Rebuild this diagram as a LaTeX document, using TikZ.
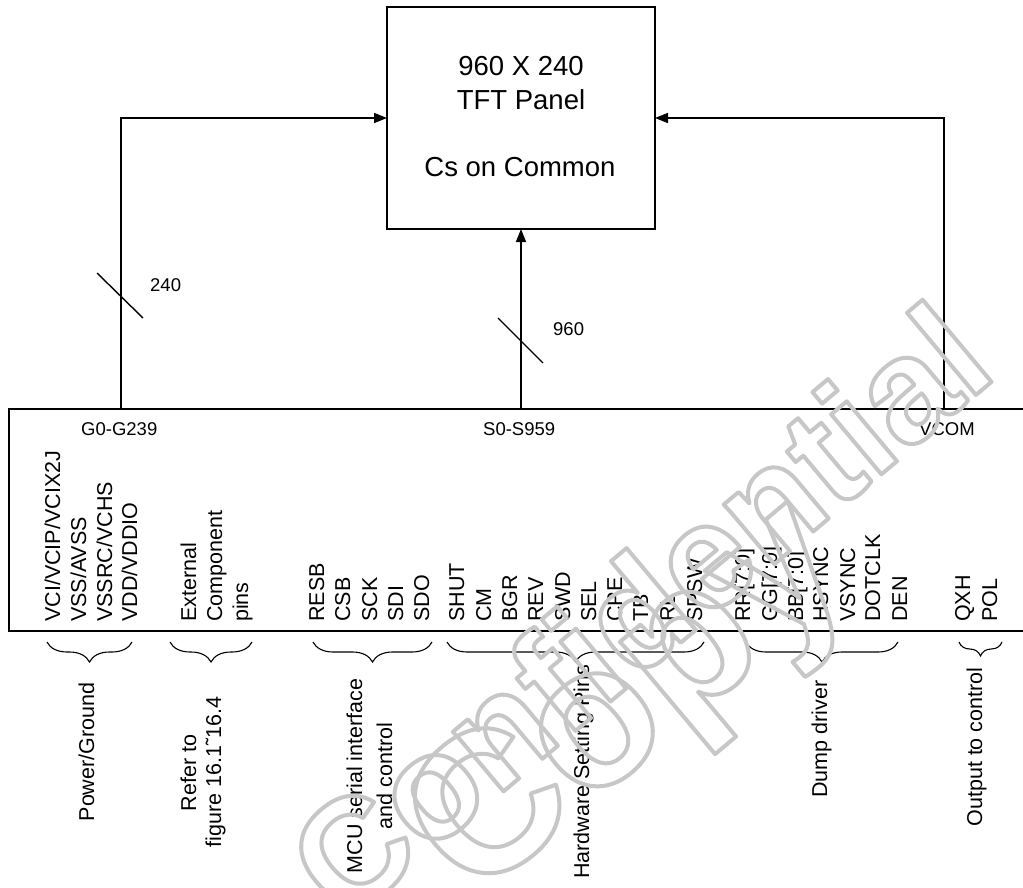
\documentclass[tikz,border=0pt]{standalone}
\usepackage{fontspec}
\setmainfont{Liberation Sans}
\usetikzlibrary{arrows.meta,decorations.pathreplacing}
\colorlet{wmgray}{black!22}
\begin{document}
\begin{tikzpicture}[x=1pt,y=-1pt,
  arr/.style={line width=1.6pt,-{Triangle[length=13pt,width=10pt]}},
  box/.style={draw,line width=1.6pt,inner sep=0pt,outer sep=0pt},
  pin/.style={rotate=90,anchor=base west,inner sep=0pt,font=\fontsize{21.5}{26}\selectfont},
  grp/.style={rotate=90,anchor=base,inner sep=0pt,font=\fontsize{21.5}{26}\selectfont},
  bus/.style={anchor=base west,inner sep=0pt,font=\fontsize{18.5}{22}\selectfont},
  ptext/.style={anchor=base,inner sep=0pt,font=\fontsize{27.5}{33}\selectfont},
  brc/.style={decorate,decoration={brace,amplitude=20pt,mirror},line width=1.1pt},
  slash/.style={line width=1.4pt},
  wm/.style={rotate=40,anchor=base,inner sep=0pt,text=wmgray}
]
\useasboundingbox (0,0) rectangle (1023,888);

% panel
\node[box,minimum width=268pt,minimum height=222pt] (panel) at (521,118) {};
\node[ptext] (t1) at (521,76) {960 X 240};
\node[ptext] (t2) at (521,110) {TFT Panel};
\node[ptext] (t3) at (520,177) {Cs on Common};

% driver chip
\node[box,minimum width=1040pt,minimum height=222pt,anchor=north west] (chip) at (9,409) {};
\coordinate (gtap) at (121,409);
\coordinate (stap) at (521,409);
\coordinate (vtap) at (944,409);
\draw[arr] (gtap) |- (panel.west);
\draw[arr] (vtap) |- (panel.east);
\draw[arr] (stap) -- (panel.south);

% bus slashes
\draw[slash] (97,273) -- (143,318);
\draw[slash] (498,318) -- (543,363);
\node[bus] (l240) at (150,291) {240};
\node[bus] (l960) at (553,335) {960};

\node[bus] (lg) at (81,435) {G0-G239};
\node[bus] (ls) at (483,435) {S0-S959};
\node[bus] (lv) at (919,435) {VCOM};

% pins
\node[pin] (p1) at (60,622) {VCI/VCIP/VCIX2J};
\node[pin] (p2) at (86,622) {VSS/AVSS};
\node[pin] (p3) at (112,622) {VSSRC/VCHS};
\node[pin] (p4) at (137,622) {VDD/VDDIO};
\node[pin] (p5) at (196,622) {External};
\node[pin] (p6) at (222,622) {Component};
\node[pin] (p7) at (248,622) {pins};
\node[pin] (p8) at (324,622) {RESB};
\node[pin] (p9) at (350,622) {CSB};
\node[pin] (p10) at (377,622) {SCK};
\node[pin] (p11) at (403,622) {SDI};
\node[pin] (p12) at (429,622) {SDO};
\node[pin] (p13) at (464,622) {SHUT};
\node[pin] (p14) at (491,622) {CM};
\node[pin] (p15) at (517,622) {BGR};
\node[pin] (p16) at (543,622) {REV};
\node[pin] (p17) at (570,622) {SWD};
\node[pin] (p18) at (596,622) {SEL};
\node[pin] (p19) at (622,622) {CPE};
\node[pin] (p20) at (648,622) {TB};
\node[pin] (p21) at (675,622) {RL};
\node[pin] (p22) at (702,622) {SPSW};
\node[pin] (p23) at (750,622) {RR[7:0]};
\node[pin] (p24) at (777,622) {GG[7:0]};
\node[pin] (p25) at (803,622) {BB[7:0]};
\node[pin] (p26) at (828,622) {HSYNC};
\node[pin] (p27) at (855,622) {VSYNC};
\node[pin] (p28) at (880,622) {DOTCLK};
\node[pin] (p29) at (907,622) {DEN};
\node[pin] (p30) at (970,622) {QXH};
\node[pin] (p31) at (997,622) {POL};

% braces
\draw[brc] (47,642) -- (132,642);
\draw[brc] (170,642) -- (252,642);
\draw[brc] (313,642) -- (432,642);
\draw[brc] (447,642) -- (704,642);
\draw[brc] (746,642) -- (898,642);
\draw[brc,decoration={amplitude=14pt}] (959,642) -- (1002,642);

% group labels
\node[grp] (g1) at (94,752) {Power/Ground};
\node[grp] (g2a) at (196,773) {Refer to};
\node[grp] (g2b) at (221,772) {figure 16.1\symbol{"02DC}16.4};
\node[grp] (g3a) at (362,776) {MCU serial interface};
\node[grp] (g3b) at (392,776) {and control};
\node[grp] (g4) at (589,772) {Hardware Setting Pins};
\node[grp] (g5) at (827,739) {Dump driver};
\node[grp] (g6) at (982,747) {Output to control};

% watermark
\node[wm,font=\fontsize{148}{148}\selectfont\bfseries] (wm1) at (672,650)
  {\special{pdf:literal direct 1 Tr 4 w 1 j}Confidential\special{pdf:literal direct 0 Tr}};
\node[wm,font=\fontsize{200}{200}\selectfont\bfseries] (wm2) at (665,742)
  {\special{pdf:literal direct 1 Tr 4 w 1 j}Copy\special{pdf:literal direct 0 Tr}};
\end{tikzpicture}
\end{document}
